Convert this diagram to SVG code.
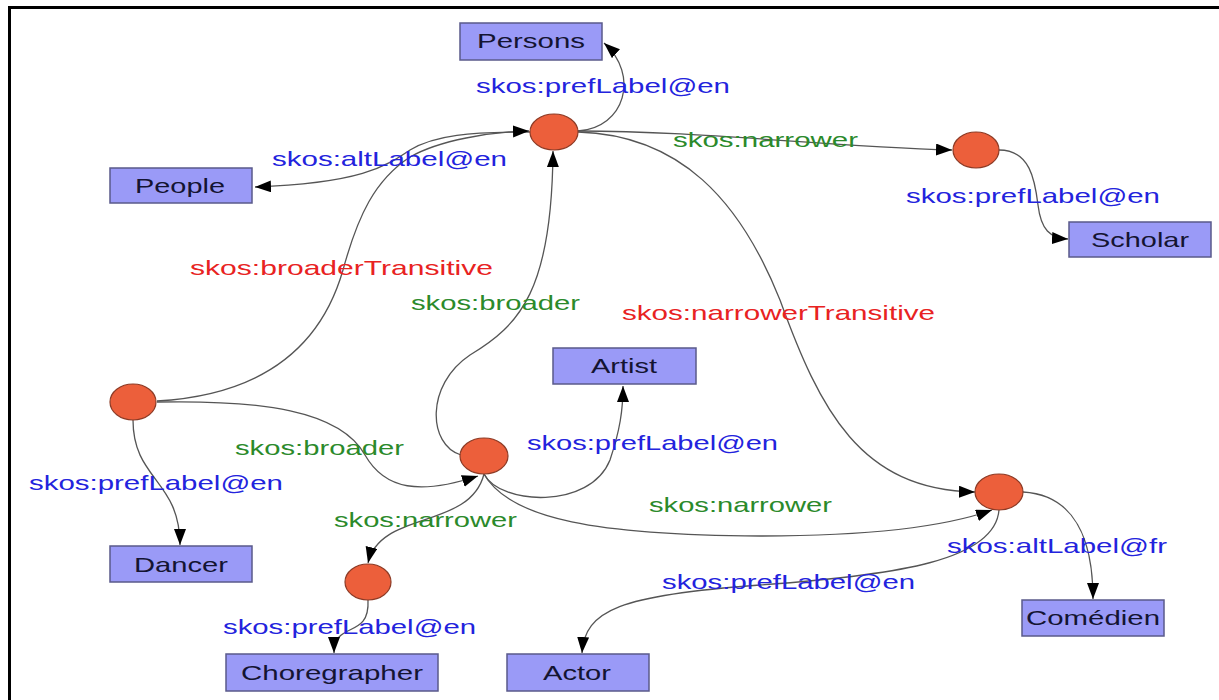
<svg xmlns="http://www.w3.org/2000/svg" width="1219" height="700" viewBox="0 0 1219 700">
<style>
.rect{fill:#9a9af7;stroke:#5a5a8a;stroke-width:1.5}
.circ{fill:#ec5f3b;stroke:#8c3b26;stroke-width:1.2}
.nl{font-family:"Liberation Sans",Arial,sans-serif;font-size:21px;fill:#141432}
.el{font-family:"Liberation Sans",Arial,sans-serif;font-size:21px}
.b{fill:#2323dd}.g{fill:#2b8a2b}.r{fill:#e82222}
.edge{fill:none;stroke:#555;stroke-width:1.3;marker-end:url(#ah)}
</style>
<defs>
<marker id="ah" markerUnits="userSpaceOnUse" markerWidth="18" markerHeight="14" refX="16" refY="6" orient="auto">
<path d="M0,0 L16,6 L0,12 Z" fill="#000"/>
</marker>
</defs>
<rect x="0" y="0" width="1219" height="700" fill="#fff"/>
<rect x="8" y="6" width="3" height="694" fill="#000"/>
<rect x="8" y="6" width="1211" height="3" fill="#000"/>

<g id="connectors">
<path class="edge" d="M578,131 C625,128 640,75 604,43"/>
<path class="edge" d="M530,132 C470,132 435,135 410,150 C385,167 360,183 255,187"/>
<path class="edge" d="M157,401 C260,395 320,350 343,270 C358,215 375,180 410,157 C440,140 490,132 529,131"/>
<path class="edge" d="M461,455 C428,445 425,385 470,355 C520,325 552,290 553,151"/>
<path class="edge" d="M578,131 C700,131 820,146 952,150"/>
<path class="edge" d="M578,132 C680,135 740,200 780,300 C820,410 860,490 975,492"/>
<path class="edge" d="M999,150 C1030,150 1035,180 1038,205 C1041,230 1050,238 1068,239"/>
<path class="edge" d="M133,420 C133,480 180,480 180,545"/>
<path class="edge" d="M157,402 C260,400 340,410 365,455 C385,490 420,495 478,476"/>
<path class="edge" d="M484,474 C500,505 590,510 610,460 C620,430 623,410 623,386"/>
<path class="edge" d="M484,474 C510,520 600,535 760,536 C880,536 950,525 992,510"/>
<path class="edge" d="M484,474 C470,530 380,510 368,563"/>
<path class="edge" d="M368,600 C370,640 334,620 334,653"/>
<path class="edge" d="M999,510 C995,560 900,575 760,585 C620,595 585,610 582,653"/>
<path class="edge" d="M1023,492 C1075,495 1093,540 1093,599"/>
</g>

<g id="edge-labels">
<text class="el b" x="476" y="93" textLength="254" lengthAdjust="spacingAndGlyphs">skos:prefLabel@en</text>
<text class="el b" x="272" y="166" textLength="235" lengthAdjust="spacingAndGlyphs">skos:altLabel@en</text>
<text class="el g" x="673" y="147" textLength="185" lengthAdjust="spacingAndGlyphs">skos:narrower</text>
<text class="el b" x="906" y="203" textLength="254" lengthAdjust="spacingAndGlyphs">skos:prefLabel@en</text>
<text class="el r" x="190" y="275" textLength="303" lengthAdjust="spacingAndGlyphs">skos:broaderTransitive</text>
<text class="el g" x="411" y="310" textLength="169" lengthAdjust="spacingAndGlyphs">skos:broader</text>
<text class="el r" x="622" y="320" textLength="313" lengthAdjust="spacingAndGlyphs">skos:narrowerTransitive</text>
<text class="el g" x="235" y="455" textLength="169" lengthAdjust="spacingAndGlyphs">skos:broader</text>
<text class="el b" x="527" y="450" textLength="251" lengthAdjust="spacingAndGlyphs">skos:prefLabel@en</text>
<text class="el b" x="29" y="490" textLength="254" lengthAdjust="spacingAndGlyphs">skos:prefLabel@en</text>
<text class="el g" x="649" y="512" textLength="183" lengthAdjust="spacingAndGlyphs">skos:narrower</text>
<text class="el g" x="334" y="527" textLength="183" lengthAdjust="spacingAndGlyphs">skos:narrower</text>
<text class="el b" x="223" y="634" textLength="253" lengthAdjust="spacingAndGlyphs">skos:prefLabel@en</text>
<text class="el b" x="662" y="589" textLength="253" lengthAdjust="spacingAndGlyphs">skos:prefLabel@en</text>
<text class="el b" x="947" y="553" textLength="220" lengthAdjust="spacingAndGlyphs">skos:altLabel@fr</text>
</g>

<g id="node-A"><ellipse class="circ" cx="554" cy="132" rx="24" ry="18"/></g>
<g id="node-B"><ellipse class="circ" cx="976" cy="150" rx="23" ry="18"/></g>
<g id="node-C"><ellipse class="circ" cx="133" cy="402" rx="23" ry="18"/></g>
<g id="node-D"><ellipse class="circ" cx="368" cy="582" rx="23" ry="18"/></g>
<g id="node-E"><ellipse class="circ" cx="484" cy="456" rx="24" ry="18"/></g>
<g id="node-F"><ellipse class="circ" cx="999" cy="492" rx="24" ry="18"/></g>

<g id="node-persons"><rect class="rect" x="460" y="23" width="142" height="37"/><text class="nl" x="477" y="48" textLength="108" lengthAdjust="spacingAndGlyphs">Persons</text></g>
<g id="node-people"><rect class="rect" x="110" y="168" width="142" height="35"/><text class="nl" x="135" y="193" textLength="90" lengthAdjust="spacingAndGlyphs">People</text></g>
<g id="node-scholar"><rect class="rect" x="1069" y="222" width="142" height="35"/><text class="nl" x="1091" y="247" textLength="98" lengthAdjust="spacingAndGlyphs">Scholar</text></g>
<g id="node-dancer"><rect class="rect" x="110" y="546" width="142" height="36"/><text class="nl" x="134" y="572" textLength="94" lengthAdjust="spacingAndGlyphs">Dancer</text></g>
<g id="node-choregrapher"><rect class="rect" x="226" y="654" width="212" height="37"/><text class="nl" x="241" y="680" textLength="182" lengthAdjust="spacingAndGlyphs">Choregrapher</text></g>
<g id="node-artist"><rect class="rect" x="553" y="348" width="143" height="36"/><text class="nl" x="591" y="373" textLength="66" lengthAdjust="spacingAndGlyphs">Artist</text></g>
<g id="node-actor"><rect class="rect" x="507" y="654" width="142" height="37"/><text class="nl" x="543" y="680" textLength="68" lengthAdjust="spacingAndGlyphs">Actor</text></g>
<g id="node-comedien"><rect class="rect" x="1022" y="600" width="142" height="36"/><text class="nl" x="1026" y="625" textLength="134" lengthAdjust="spacingAndGlyphs">Comédien</text></g>
</svg>
